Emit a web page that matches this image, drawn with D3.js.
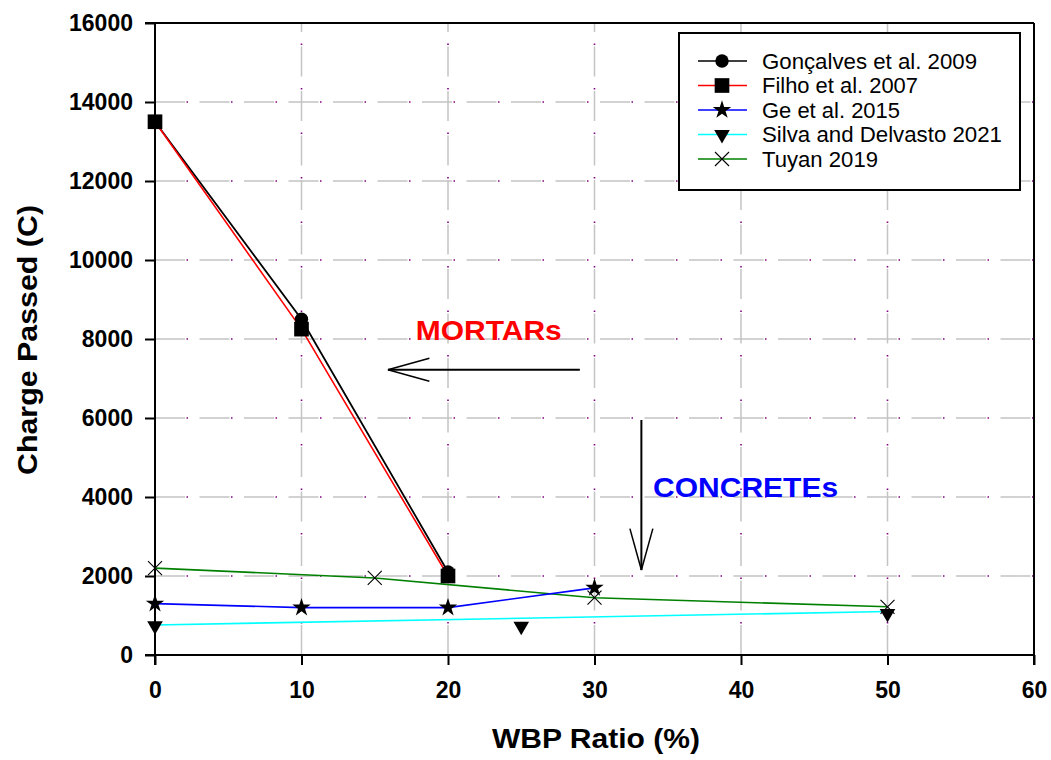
<!DOCTYPE html>
<html>
<head>
<meta charset="utf-8">
<script src="https://cdn.jsdelivr.net/npm/d3@7"></script>
<style>
  html, body { margin: 0; padding: 0; background: #ffffff; }
  svg { display: block; font-family: Arial, "Liberation Sans", sans-serif; }
</style>
</head>
<body>
<svg id="chart" width="1051" height="760"></svg>
<script>
// ---------------- data ----------------
const seriesNames = ["Gonçalves et al. 2009", "Filho et al. 2007", "Ge et al. 2015", "Silva and Delvasto 2021", "Tuyan 2019"];
const seriesColors = ["#000000", "#ff0000", "#0000ff", "#00ffff", "#008000"];
const seriesSymbols = ["circle", "square", "star", "triangleDown", "times"];

const goncalvesX = [0, 10, 20];
const goncalvesY = [13500, 8500, 2100];
const filhoX = [0, 10, 20];
const filhoY = [13500, 8250, 2000];
const geX = [0, 10, 20, 30];
const geY = [1300, 1200, 1200, 1700];
const silvaX = [0, 25, 50];
const silvaY = [740, 730, 1050];
const silvaLineX = [0, 50];
const silvaLineY = [760, 1100];
const tuyanX = [0, 15, 30, 50];
const tuyanY = [2200, 1950, 1450, 1220];

const xTicks = [0, 10, 20, 30, 40, 50, 60];
const yTicks = [0, 2000, 4000, 6000, 8000, 10000, 12000, 14000, 16000];
const xLabel = "WBP Ratio (%)";
const yLabel = "Charge Passed (C)";

const annotationTexts = ["MORTARs", "CONCRETEs"];
const annotationColors = ["#ff0000", "#0000ff"];
const annotationX = [17.8, 34.0];
const annotationY = [7970, 4000];
const arrowFromX = [29.0, 33.2];
const arrowFromY = [7220, 5950];
const arrowToX = [15.9, 33.2];
const arrowToY = [7220, 2150];

// ---------------- layout ----------------
const svg = d3.select("#chart");
const pLeft = 155, pRight = 1034, pTop = 23, pBottom = 655;
const x = d3.scaleLinear().domain([0, 60]).range([pLeft, pRight]);
const y = d3.scaleLinear().domain([0, 16000]).range([pBottom, pTop]);

// ---------------- grid ----------------
const grid = svg.append("g");
const hGrid = yTicks.filter(v => v > 0 && v < 16000);
const vGrid = xTicks.filter(v => v > 0 && v < 60);
hGrid.forEach(v => {
  grid.append("line").attr("x1", pLeft).attr("x2", pRight).attr("y1", y(v)).attr("y2", y(v))
    .attr("stroke", "#c4c4c4").attr("stroke-width", 1.5).attr("stroke-dasharray", "30,14.5");
  grid.append("line").attr("x1", pLeft).attr("x2", pRight).attr("y1", y(v)).attr("y2", y(v))
    .attr("stroke", "#800080").attr("stroke-width", 1.6).attr("stroke-dasharray", "1.5,43")
    .attr("stroke-dashoffset", -31.5);
});
vGrid.forEach(v => {
  grid.append("line").attr("x1", x(v)).attr("x2", x(v)).attr("y1", pBottom).attr("y2", pTop)
    .attr("stroke", "#c4c4c4").attr("stroke-width", 1.5).attr("stroke-dasharray", "30,14.5");
  grid.append("line").attr("x1", x(v)).attr("x2", x(v)).attr("y1", pBottom).attr("y2", pTop)
    .attr("stroke", "#800080").attr("stroke-width", 1.6).attr("stroke-dasharray", "1.5,43")
    .attr("stroke-dashoffset", -31.5);
});

// ---------------- frame ----------------
svg.append("line").attr("x1", pLeft - 10).attr("x2", pRight).attr("y1", pTop).attr("y2", pTop)
  .attr("stroke", "#000").attr("stroke-width", 2);
svg.append("line").attr("x1", pRight).attr("x2", pRight).attr("y1", pTop).attr("y2", pBottom + 10)
  .attr("stroke", "#000").attr("stroke-width", 2);

// ---------------- axes ----------------
const yAxis = svg.append("g").attr("transform", `translate(${pLeft},0)`)
  .call(d3.axisLeft(y).tickValues(yTicks).tickFormat(d3.format("d")).tickSize(10).tickPadding(12));
const xAxis = svg.append("g").attr("transform", `translate(0,${pBottom})`)
  .call(d3.axisBottom(x).tickValues(xTicks).tickFormat(d3.format("d")).tickSize(10).tickPadding(17));
[yAxis, xAxis].forEach(a => {
  a.select(".domain").attr("stroke", "#000").attr("stroke-width", 2);
  a.selectAll(".tick line").attr("stroke", "#000").attr("stroke-width", 2);
  a.selectAll(".tick text").attr("fill", "#000").attr("font-size", 23).attr("font-weight", "bold")
    .attr("font-family", "Arial, 'Liberation Sans', sans-serif");
});
yAxis.select(".domain").attr("d", `M0,${pBottom + 10}V${pTop}`);
xAxis.select(".domain").attr("d", `M${pLeft - 10},0H${pRight}`);

// axis titles
svg.append("text").attr("x", 596).attr("y", 748).attr("text-anchor", "middle")
  .attr("font-size", 27).attr("font-weight", "bold").attr("textLength", 208)
  .attr("lengthAdjust", "spacingAndGlyphs").text(xLabel);
svg.append("text").attr("transform", "translate(37,340) rotate(-90)").attr("text-anchor", "middle")
  .attr("font-size", 28).attr("font-weight", "bold").attr("textLength", 270)
  .attr("lengthAdjust", "spacingAndGlyphs").text(yLabel);

// ---------------- series ----------------
const symbolFor = {
  circle: d3.symbol().type(d3.symbolCircle).size(140),
  square: d3.symbol().type(d3.symbolSquare).size(215),
  star: d3.symbol().type(d3.symbolStar).size(105),
  triangleDown: d3.symbol().type(d3.symbolTriangle).size(105),
  times: d3.symbol().type(d3.symbolTimes).size(130)
};
function drawMarker(g, kind, px, py) {
  const p = g.append("path").attr("d", symbolFor[kind]());
  if (kind === "triangleDown") {
    p.attr("transform", `translate(${px},${py}) rotate(180)`);
  } else {
    p.attr("transform", `translate(${px},${py})`);
  }
  if (kind === "times") p.attr("fill", "none").attr("stroke", "#000").attr("stroke-width", 1.1);
  else p.attr("fill", "#000");
}

const seriesData = [
  { line: d3.zip(goncalvesX, goncalvesY), pts: d3.zip(goncalvesX, goncalvesY) },
  { line: d3.zip(filhoX, filhoY), pts: d3.zip(filhoX, filhoY) },
  { line: d3.zip(geX, geY), pts: d3.zip(geX, geY) },
  { line: d3.zip(silvaLineX, silvaLineY), pts: d3.zip(silvaX, silvaY) },
  { line: d3.zip(tuyanX, tuyanY), pts: d3.zip(tuyanX, tuyanY) }
];
const lineGen = d3.line().x(d => x(d[0])).y(d => y(d[1]));
const drawOrder = [4, 3, 2, 0, 1];
const linesG = svg.append("g");
drawOrder.forEach(i => {
  linesG.append("path").attr("d", lineGen(seriesData[i].line)).attr("fill", "none")
    .attr("stroke", seriesColors[i]).attr("stroke-width", i === 0 ? 1.8 : 1.6);
});
const marksG = svg.append("g");
drawOrder.forEach(i => {
  seriesData[i].pts.forEach(d => drawMarker(marksG, seriesSymbols[i], x(d[0]), y(d[1])));
});

// ---------------- annotations ----------------
annotationTexts.forEach((t, i) => {
  svg.append("text").attr("x", x(annotationX[i])).attr("y", y(annotationY[i]))
    .attr("fill", annotationColors[i]).attr("font-size", 28).attr("font-weight", "bold")
    .attr("textLength", i === 0 ? 146 : 185).attr("lengthAdjust", "spacingAndGlyphs").text(t);
  const x1 = x(arrowFromX[i]), y1 = y(arrowFromY[i]), x2 = x(arrowToX[i]), y2 = y(arrowToY[i]);
  svg.append("line").attr("x1", x1).attr("y1", y1).attr("x2", x2).attr("y2", y2)
    .attr("stroke", "#000").attr("stroke-width", 2);
  const ang = Math.atan2(y1 - y2, x1 - x2);
  const hl = 43, spread = 0.27;
  [-spread, spread].forEach(s => {
    svg.append("line").attr("x1", x2).attr("y1", y2)
      .attr("x2", x2 + hl * Math.cos(ang + s)).attr("y2", y2 + hl * Math.sin(ang + s))
      .attr("stroke", "#000").attr("stroke-width", 1.5);
  });
});

// ---------------- legend ----------------
const leg = svg.append("g");
leg.append("rect").attr("x", 679).attr("y", 33).attr("width", 341).attr("height", 157)
  .attr("fill", "#fff").attr("stroke", "#000").attr("stroke-width", 2);
const legendWidths = [215, 156, 138, 240, 116];
seriesNames.forEach((name, i) => {
  const cy = 61 + i * 24.5;
  leg.append("line").attr("x1", 698).attr("x2", 747).attr("y1", cy).attr("y2", cy)
    .attr("stroke", seriesColors[i]).attr("stroke-width", 1.6);
  drawMarker(leg, seriesSymbols[i], 722, cy);
  leg.append("text").attr("x", 762).attr("y", cy + 7.5).attr("font-size", 22)
    .attr("fill", "#000").attr("textLength", legendWidths[i]).attr("lengthAdjust", "spacingAndGlyphs")
    .text(name);
});
</script>
</body>
</html>
